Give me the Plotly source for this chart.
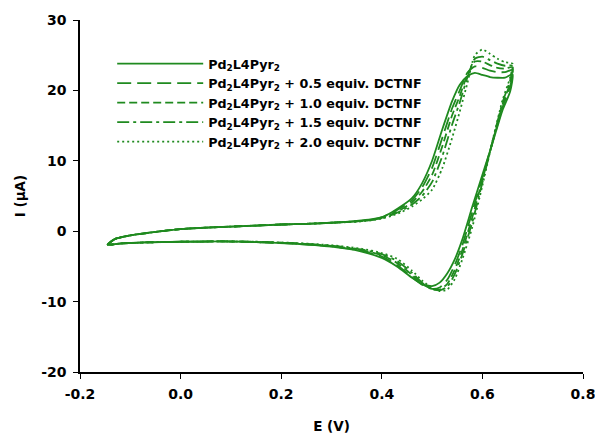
import plotly.graph_objects as go

# Shared potential sweep (V): forward scan then reverse scan
E = [-0.145, -0.13, -0.10, -0.05, 0.00, 0.05, 0.10, 0.15, 0.20, 0.25, 0.30, 0.35, 0.38,
     0.40, 0.42, 0.44, 0.46, 0.48, 0.50, 0.52, 0.54, 0.555, 0.57, 0.585, 0.60, 0.615,
     0.63, 0.645, 0.66,
     0.655, 0.64, 0.62, 0.60, 0.58, 0.56, 0.545, 0.53, 0.515, 0.50, 0.48, 0.46, 0.43,
     0.40, 0.36, 0.30, 0.22, 0.15, 0.08, 0.00, -0.07, -0.12, -0.145]

# Currents (uA)
I_0 = [-1.9, -1.1, -0.6, -0.1, 0.3, 0.5, 0.65, 0.8, 0.95, 1.05, 1.2, 1.45, 1.7,
       2.0, 2.7, 3.6, 4.7, 6.8, 10.0, 14.4, 18.5, 20.8, 22.0, 22.5, 22.2, 21.9,
       21.8, 21.8, 22.3,
       19.8, 17.2, 12.5, 8.0, 3.5, -1.2, -4.0, -6.0, -7.3, -7.8, -7.5, -6.6, -5.0,
       -3.8, -2.9, -2.2, -1.75, -1.55, -1.45, -1.5, -1.6, -1.75, -1.9]
I_05 = [-1.9, -1.1, -0.6, -0.1, 0.3, 0.5, 0.65, 0.8, 0.95, 1.05, 1.2, 1.4, 1.65,
        1.95, 2.6, 3.4, 4.4, 6.2, 9.0, 13.2, 17.5, 20.0, 22.5, 23.4, 23.2, 22.8,
        22.6, 22.6, 22.9,
        20.5, 17.6, 12.6, 7.6, 2.8, -2.0, -4.8, -6.9, -8.0, -8.2, -7.6, -6.5, -4.8,
        -3.6, -2.8, -2.15, -1.75, -1.55, -1.45, -1.5, -1.6, -1.75, -1.9]
I_10 = [-1.9, -1.1, -0.6, -0.1, 0.3, 0.5, 0.65, 0.8, 0.95, 1.05, 1.2, 1.4, 1.6,
        1.9, 2.45, 3.15, 4.1, 5.6, 8.0, 12.0, 16.5, 19.2, 22.2, 24.1, 24.1, 23.6,
        23.2, 23.1, 23.3,
        21.0, 18.0, 12.6, 7.3, 2.0, -2.7, -5.5, -7.5, -8.3, -8.2, -7.5, -6.2, -4.5,
        -3.4, -2.7, -2.1, -1.7, -1.55, -1.45, -1.5, -1.6, -1.75, -1.9]
I_15 = [-1.9, -1.1, -0.6, -0.1, 0.3, 0.5, 0.65, 0.8, 0.95, 1.05, 1.2, 1.4, 1.6,
        1.85, 2.3, 2.95, 3.8, 5.0, 7.0, 10.6, 15.2, 18.3, 21.8, 24.5, 24.8, 24.3,
        23.8, 23.5, 23.5,
        21.4, 18.3, 12.7, 6.9, 1.3, -3.3, -6.1, -7.9, -8.4, -8.2, -7.3, -5.9, -4.2,
        -3.25, -2.6, -2.05, -1.7, -1.5, -1.45, -1.5, -1.6, -1.75, -1.9]
I_20 = [-1.9, -1.1, -0.6, -0.1, 0.3, 0.5, 0.65, 0.8, 0.95, 1.05, 1.2, 1.35, 1.55,
        1.8, 2.2, 2.75, 3.5, 4.5, 5.9, 8.9, 13.3, 17.0, 21.0, 25.0, 25.8, 25.2,
        24.5, 24.0, 23.8,
        21.8, 18.6, 12.8, 6.5, 0.6, -4.0, -6.8, -8.3, -8.5, -8.1, -7.0, -5.6, -3.9,
        -3.1, -2.5, -2.0, -1.65, -1.5, -1.45, -1.5, -1.6, -1.75, -1.9]

names = [
    "Pd<sub>2</sub>L4Pyr<sub>2</sub>",
    "Pd<sub>2</sub>L4Pyr<sub>2</sub> + 0.5 equiv. DCTNF",
    "Pd<sub>2</sub>L4Pyr<sub>2</sub> + 1.0 equiv. DCTNF",
    "Pd<sub>2</sub>L4Pyr<sub>2</sub> + 1.5 equiv. DCTNF",
    "Pd<sub>2</sub>L4Pyr<sub>2</sub> + 2.0 equiv. DCTNF",
]
series = [I_0, I_05, I_10, I_15, I_20]
dashes = ["solid", "14px,6px", "8px,4px", "12px,4px,3px,4px", "2px,3px"]

x_ticks = [-0.2, 0.0, 0.2, 0.4, 0.6, 0.8]
y_ticks = [-20, -10, 0, 10, 20, 30]

GREEN = "#1f8a1f"
FONT = "DejaVu Sans, Liberation Sans, Arial, sans-serif"

fig = go.Figure()
for nm, cur, ds in zip(names, series, dashes):
    fig.add_trace(go.Scatter(
        x=E, y=cur, mode="lines", name="<b>" + nm + "</b>",
        line=dict(color=GREEN, width=1.8, dash=ds, shape="spline", smoothing=0.6),
    ))

fig.update_layout(
    width=595, height=434,
    margin=dict(l=80, r=12, t=20, b=62, autoexpand=False),
    paper_bgcolor="white", plot_bgcolor="white",
    font=dict(family=FONT, size=12, color="black"),
    showlegend=True,
    legend=dict(
        x=0.064, y=0.918, xanchor="left", yanchor="top",
        bgcolor="rgba(0,0,0,0)", font=dict(family=FONT, size=12.7, color="black"),
        tracegroupgap=0, itemwidth=86,
    ),
    xaxis=dict(
        range=[-0.2, 0.8], tickvals=x_ticks,
        ticktext=[f"{v:.1f}" for v in x_ticks],
        showline=True, linecolor="black", linewidth=1.5, mirror=False,
        ticks="outside", ticklen=5, tickwidth=1.2, tickcolor="black",
        showgrid=False, zeroline=False, automargin=False, ticklabelstandoff=3,
        ticklabeloverflow="allow",
        tickfont=dict(family=FONT, size=14, color="black", weight="bold"),
        title=dict(text="<b>E (V)</b>", font=dict(family=FONT, size=13.5), standoff=22),
    ),
    yaxis=dict(
        range=[-20, 30], tickvals=y_ticks,
        ticktext=[str(v) for v in y_ticks],
        showline=True, linecolor="black", linewidth=1.5, mirror=False,
        ticks="outside", ticklen=5, tickwidth=1.2, tickcolor="black",
        showgrid=False, zeroline=False, automargin=False, ticklabelstandoff=4,
        ticklabeloverflow="allow",
        tickfont=dict(family=FONT, size=14, color="black", weight="bold"),
        title=dict(text="<b>I (μA)</b>", font=dict(family=FONT, size=13.5), standoff=12),
    ),
)

fig.write_html("out.html", config={"displayModeBar": False},
               post_script="document.body.style.margin='0px';")
